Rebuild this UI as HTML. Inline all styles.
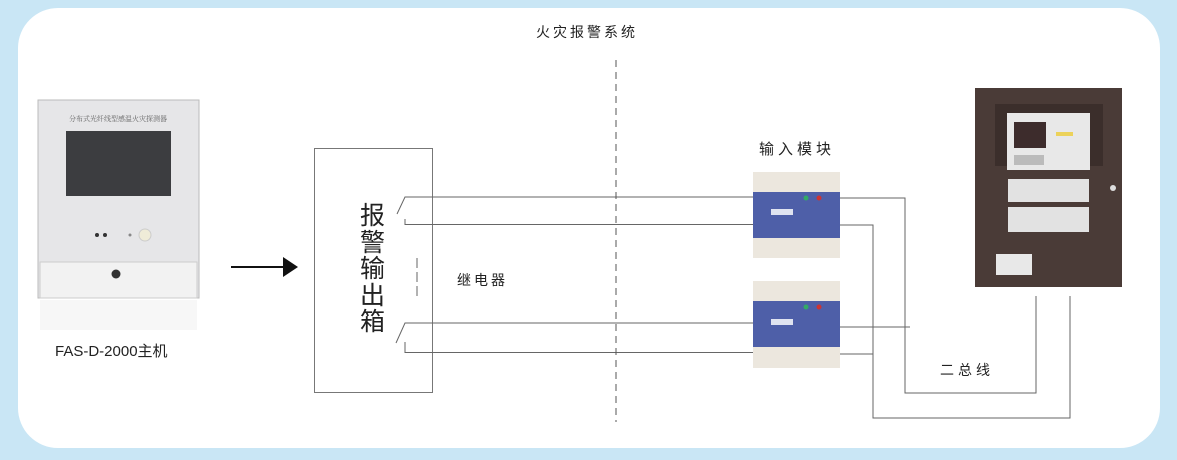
<!DOCTYPE html>
<html><head><meta charset="utf-8"><style>
body{margin:0;width:1177px;height:460px;overflow:hidden;background:#c9e6f5;font-family:"Liberation Sans","Noto Sans CJK SC",sans-serif;}
.frame{position:absolute;left:18px;top:8px;width:1142px;height:440px;background:#fff;border-radius:40px;}
.t{position:absolute;color:#222;white-space:nowrap;}
</style></head><body>
<div class="frame"></div>
<svg width="1177" height="460" style="position:absolute;left:0;top:0">
<defs>
<linearGradient id="mg" x1="0" y1="0" x2="0" y2="1"><stop offset="0" stop-color="#e8e8ea"/><stop offset="1" stop-color="#f6f6f6"/></linearGradient>
</defs>
<!-- left device -->
<rect x="38" y="100" width="161" height="198" fill="#e6e6e8" stroke="#bbb"/>
<rect x="40" y="262" width="157" height="36" fill="#f2f2f2" stroke="#ccc"/>
<rect x="66" y="131" width="105" height="65" fill="#3c3d40"/>
<circle cx="116" cy="274" r="4.5" fill="#333"/>
<circle cx="97" cy="235" r="2" fill="#333"/><circle cx="105" cy="235" r="2" fill="#333"/>
<circle cx="130" cy="235" r="1.5" fill="#888"/>
<circle cx="145" cy="235" r="6" fill="#efecd8" stroke="#ccc"/>
<rect x="40" y="300" width="157" height="30" fill="#f7f7f7"/>
<text x="118" y="121" font-size="7" text-anchor="middle" fill="#666" font-family="Noto Serif CJK SC,serif">分布式光纤线型感温火灾探测器</text>
<!-- arrow -->
<line x1="231" y1="267" x2="286" y2="267" stroke="#111" stroke-width="2"/>
<polygon points="283,257 298,267 283,277" fill="#111"/>
<!-- box -->
<rect x="314.5" y="148.5" width="118" height="244" fill="none" stroke="#777"/>
<g stroke="#666" fill="none" stroke-width="1">
<polyline points="397,214 405,197 755,197"/>
<polyline points="405,219 405,224.5 755,224.5"/>
<polyline points="396,343 405,323 755,323"/>
<polyline points="405,342 405,352.5 755,352.5"/>
<line x1="417" y1="258" x2="417" y2="298" stroke-dasharray="10,4"/>
<line x1="616" y1="60" x2="616" y2="422" stroke="#555" stroke-dasharray="7,5"/>
<polyline points="840,198 905,198 905,393 1036,393 1036,296"/>
<polyline points="840,225 873,225 873,418 1070,418 1070,296"/>
<polyline points="840,327 910,327"/>
<polyline points="840,354 873,354"/>
</g>
<!-- modules -->
<g>
<rect x="753" y="172" width="87" height="86" fill="#ece7de"/>
<rect x="753" y="192" width="87" height="46" fill="#4e5fa8"/>
<rect x="771" y="209" width="22" height="6" fill="#dfe3f0"/>
<circle cx="806" cy="198" r="2.5" fill="#3a6"/><circle cx="819" cy="198" r="2.5" fill="#c33"/>
<rect x="753" y="281" width="87" height="87" fill="#ece7de"/>
<rect x="753" y="301" width="87" height="46" fill="#4e5fa8"/>
<rect x="771" y="319" width="22" height="6" fill="#dfe3f0"/>
<circle cx="806" cy="307" r="2.5" fill="#3a6"/><circle cx="819" cy="307" r="2.5" fill="#c33"/>
</g>
<!-- panel -->
<rect x="975" y="88" width="147" height="199" fill="#4a3b37"/>
<rect x="995" y="104" width="108" height="62" fill="#3b2e2b"/>
<rect x="1007" y="113" width="83" height="57" fill="#e8e8e8"/>
<rect x="1014" y="122" width="32" height="26" fill="#3d2c2c"/>
<rect x="1014" y="155" width="30" height="10" fill="#bbb"/>
<rect x="1056" y="132" width="17" height="4" fill="#ecd25a"/>
<rect x="1008" y="179" width="81" height="23" fill="#e2e2e2"/>
<rect x="1008" y="207" width="81" height="25" fill="#e2e2e2"/>
<rect x="996" y="254" width="36" height="21" fill="#e8e8e8"/>
<circle cx="1113" cy="188" r="3" fill="#ddd"/>
</svg>
<div class="t" style="left:536px;top:22px;font-size:14px;letter-spacing:3px;">火灾报警系统</div>
<div class="t" style="left:55px;top:340px;font-size:15px;">FAS-D-2000主机</div>
<div class="t" style="left:360px;top:203px;font-size:25px;line-height:26.5px;width:30px;white-space:normal;">报警输出箱</div>
<div class="t" style="left:457px;top:270px;font-size:14px;letter-spacing:3px;">继电器</div>
<div class="t" style="left:759px;top:138px;font-size:15px;letter-spacing:4px;">输入模块</div>
<div class="t" style="left:940px;top:360px;font-size:14px;letter-spacing:4px;">二总线</div>
</body></html>
